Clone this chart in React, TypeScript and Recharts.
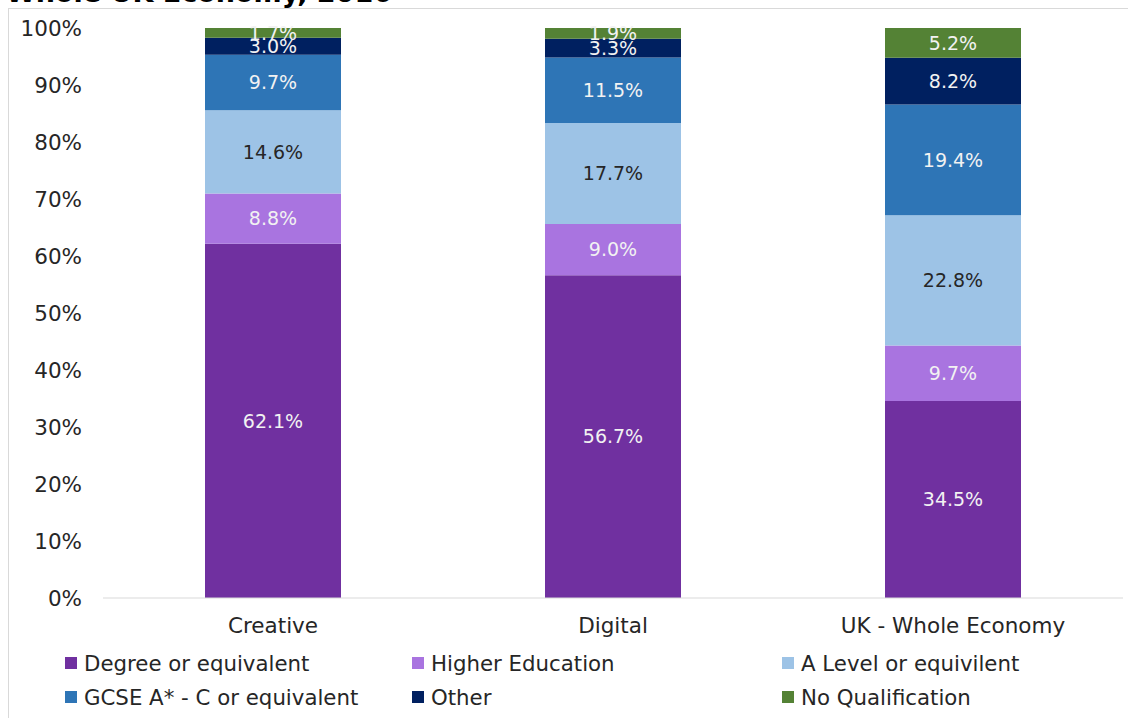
import { BarChart, Bar, XAxis, YAxis, LabelList } from "recharts";

const categories = ["Creative", "Digital", "UK - Whole Economy"];
const degree = [62.1, 56.7, 34.5];
const higherEd = [8.8, 9.0, 9.7];
const aLevel = [14.6, 17.7, 22.8];
const gcse = [9.7, 11.5, 19.4];
const other = [3.0, 3.3, 8.2];
const noQual = [1.7, 1.9, 5.2];
const yTicks = [0, 0.1, 0.2, 0.3, 0.4, 0.5, 0.6, 0.7, 0.8, 0.9, 1];

const series = [
  { key: "degree", name: "Degree or equivalent", values: degree, color: "#7030a0", label: "#f2f2f2" },
  { key: "higherEd", name: "Higher Education", values: higherEd, color: "#a974e0", label: "#f2f2f2" },
  { key: "aLevel", name: "A Level or equivilent", values: aLevel, color: "#9dc3e6", label: "#262626" },
  { key: "gcse", name: "GCSE A* - C or equivalent", values: gcse, color: "#2e75b6", label: "#f2f2f2" },
  { key: "other", name: "Other", values: other, color: "#002060", label: "#f2f2f2" },
  { key: "noQual", name: "No Qualification", values: noQual, color: "#548235", label: "#f2f2f2" },
];

const data = categories.map((c, i) => {
  const row: Record<string, string | number> = { name: c };
  series.forEach((s) => (row[s.key] = s.values[i]));
  return row;
});

const FONT = "'DejaVu Sans', Verdana, sans-serif";
const legendCols = [65, 412, 782];
const legendRows = [663, 697];

export default function App() {
  return (
    <div
      style={{
        position: "absolute",
        left: 0,
        top: 0,
        width: 1128,
        height: 718,
        overflow: "hidden",
        background: "#fff",
        fontFamily: FONT,
      }}
    >
      <div
        style={{
          position: "absolute",
          left: 6,
          top: -22,
          fontSize: 27,
          fontWeight: "bold",
          lineHeight: "30px",
          color: "#000",
          whiteSpace: "nowrap",
        }}
      >
        Whole UK Economy, 2016
      </div>
      <div
        style={{
          position: "absolute",
          left: 8,
          top: 8,
          width: 1140,
          height: 730,
          border: "1px solid #d9d9d9",
        }}
      />
      <div style={{ position: "absolute", left: 0, top: 0 }}>
        <BarChart
          width={1128}
          height={640}
          data={data}
          stackOffset="expand"
          barCategoryGap="30%"
          margin={{ top: 28, right: 5, left: 0, bottom: 0 }}
        >
          <XAxis
            dataKey="name"
            height={42}
            tickLine={false}
            axisLine={{ stroke: "#d9d9d9" }}
            tickMargin={14}
            tick={{ fill: "#262626", fontSize: 21.5, fontFamily: FONT }}
          />
          <YAxis
            width={103}
            domain={[0, 1]}
            ticks={yTicks}
            tickLine={false}
            axisLine={false}
            tickMargin={15}
            tickFormatter={(v: number) => `${Math.round(v * 100)}%`}
            tick={{ fill: "#262626", fontSize: 21.5, fontFamily: FONT }}
          />
          {series.map((s) => (
            <Bar key={s.key} dataKey={s.key} stackId="a" fill={s.color} isAnimationActive={false}>
              <LabelList
                dataKey={s.key}
                position="center"
                fill={s.label}
                fontSize={19}
                fontFamily={FONT}
                formatter={(v: number) => `${Number(v).toFixed(1)}%`}
              />
            </Bar>
          ))}
        </BarChart>
      </div>
      {series.map((s, i) => (
        <div
          key={s.key}
          style={{
            position: "absolute",
            left: legendCols[i % 3],
            top: legendRows[Math.floor(i / 3)] - 13,
            height: 26,
            display: "flex",
            alignItems: "center",
            fontSize: 21.3,
            color: "#262626",
            whiteSpace: "nowrap",
          }}
        >
          <span style={{ width: 12, height: 12, background: s.color, marginRight: 7, display: "inline-block" }} />
          {s.name}
        </div>
      ))}
    </div>
  );
}
